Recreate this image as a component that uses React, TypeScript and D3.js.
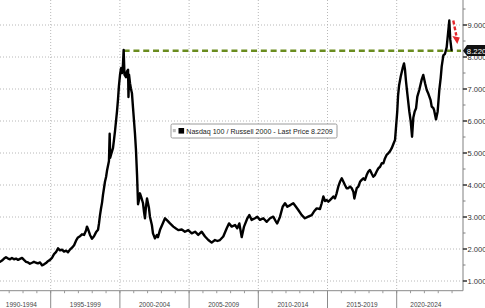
import React from "react";
import * as d3 from "d3";

const years = [
  1991.34, 1991.48, 1991.63, 1991.77, 1991.92, 1992.06, 1992.2, 1992.35, 1992.5, 1992.64,
  1992.78, 1992.93, 1993.07, 1993.22, 1993.36, 1993.5, 1993.65, 1993.79, 1993.94, 1994.08,
  1994.23, 1994.37, 1994.52, 1994.66, 1994.8, 1994.95,
  1995.09, 1995.24, 1995.38, 1995.53, 1995.67, 1995.82, 1995.96, 1996.11, 1996.25, 1996.39,
  1996.54, 1996.69, 1996.83, 1996.97, 1997.12, 1997.26, 1997.41, 1997.55, 1997.62, 1997.7,
  1997.84, 1997.98, 1998.13, 1998.27, 1998.42, 1998.49, 1998.56, 1998.63, 1998.71, 1998.78,
  1998.85, 1998.92, 1999.0, 1999.07, 1999.14, 1999.21, 1999.26, 1999.3, 1999.36, 1999.43,
  1999.5, 1999.57, 1999.65, 1999.72, 1999.79, 1999.86, 1999.93, 2000.01, 2000.08, 2000.15,
  2000.22, 2000.27, 2000.33, 2000.44, 2000.51, 2000.59, 2000.62, 2000.66, 2000.73, 2000.8,
  2000.87, 2000.95, 2001.02, 2001.09, 2001.16, 2001.24, 2001.31, 2001.38, 2001.45, 2001.53,
  2001.67, 2001.74, 2001.81, 2001.88, 2001.96, 2002.1, 2002.17, 2002.31, 2002.39, 2002.53,
  2002.68, 2002.75, 2002.9, 2003.05, 2003.26, 2003.45, 2003.62, 2003.86, 2004.05, 2004.22,
  2004.47, 2004.7, 2004.94, 2005.19, 2005.43, 2005.66, 2005.91, 2006.15, 2006.39, 2006.63,
  2006.87, 2007.05, 2007.23, 2007.47, 2007.72, 2007.88, 2008.08, 2008.32, 2008.48, 2008.63,
  2008.8, 2008.97, 2009.21, 2009.35, 2009.52, 2009.76, 2009.93, 2010.12, 2010.36, 2010.61,
  2010.85, 2011.08, 2011.28, 2011.37, 2011.57, 2011.76, 2011.93, 2012.1, 2012.34, 2012.53,
  2012.72, 2012.89, 2013.14, 2013.37, 2013.61, 2013.86, 2014.02, 2014.22, 2014.46, 2014.58,
  2014.7, 2014.82, 2014.94, 2015.06, 2015.18, 2015.3, 2015.42, 2015.54, 2015.66, 2015.78,
  2015.9, 2016.03, 2016.15, 2016.26, 2016.38, 2016.5, 2016.63, 2016.75, 2016.87, 2016.94,
  2017.11, 2017.23, 2017.35, 2017.47, 2017.59, 2017.71, 2017.83, 2017.95, 2018.07, 2018.19,
  2018.31, 2018.43, 2018.55, 2018.67, 2018.8, 2018.92, 2019.04, 2019.15, 2019.27, 2019.39,
  2019.51, 2019.64, 2019.76, 2019.88, 2020.04, 2020.1, 2020.17, 2020.29, 2020.43, 2020.53,
  2020.6, 2020.67, 2020.77, 2020.91, 2021.01, 2021.11, 2021.2, 2021.3, 2021.4, 2021.49,
  2021.63, 2021.81, 2021.92, 2022.05, 2022.17, 2022.29, 2022.36, 2022.45, 2022.53, 2022.65,
  2022.7, 2022.84, 2022.96, 2023.08, 2023.18, 2023.25, 2023.37, 2023.49, 2023.61, 2023.71,
  2023.8, 2023.87, 2023.96,
];

// Nasdaq 100 / Russell 2000 ratio
const ratio = [
  1.6, 1.64, 1.7, 1.74, 1.7, 1.68, 1.72, 1.68, 1.7, 1.66,
  1.69, 1.72, 1.66, 1.6, 1.58, 1.54, 1.57, 1.6, 1.57, 1.55,
  1.58, 1.49, 1.52, 1.56, 1.62, 1.66,
  1.72, 1.84, 1.9, 2.02, 1.96, 1.98, 1.92, 1.95, 1.9, 1.98,
  2.04, 2.12, 2.26, 2.36, 2.4, 2.46, 2.44, 2.58, 2.7, 2.62,
  2.44, 2.32, 2.4, 2.52, 2.6, 2.8, 3.05, 3.25, 3.45, 3.7,
  3.9, 4.1, 4.25, 4.45, 4.6, 4.75, 5.6, 4.85, 4.95, 5.05,
  5.15, 5.4, 5.7, 6.0, 6.3, 6.66, 7.1, 7.45, 7.65, 7.5,
  7.75, 8.22, 7.45, 7.37, 7.55, 7.6, 6.75, 7.45, 7.18, 7.0,
  6.87, 6.4, 6.0, 5.6, 5.1, 4.3, 3.4, 3.53, 3.74, 3.64,
  3.43, 3.17, 2.96, 3.3, 3.58, 3.28, 3.01, 2.75, 2.49, 2.33,
  2.44, 2.37, 2.6, 2.75, 2.96, 2.88, 2.8, 2.7, 2.64, 2.59,
  2.61, 2.54, 2.59, 2.49, 2.54, 2.44, 2.54, 2.39, 2.28, 2.2,
  2.28, 2.25, 2.28, 2.39, 2.65, 2.8, 2.7, 2.75, 2.65, 2.8,
  2.37, 2.7, 2.96, 3.06, 2.91, 2.96, 3.01, 2.91, 2.96, 2.85,
  2.96, 3.01, 2.85, 2.8, 3.01, 3.32, 3.43, 3.32, 3.38, 3.43,
  3.32, 3.22, 3.06, 2.96, 3.01, 3.06, 3.17, 3.27, 3.25, 3.43,
  3.64, 3.5, 3.53, 3.48, 3.53, 3.58, 3.64, 3.58, 3.74, 3.95,
  4.1, 4.21, 4.1, 4.0, 3.9, 3.9, 3.95, 3.9, 3.79, 3.58,
  3.9, 3.95, 4.1, 4.16, 4.21, 4.16, 4.31, 4.42, 4.47, 4.36,
  4.26, 4.31, 4.42, 4.52, 4.57, 4.68, 4.68, 4.83, 4.94, 4.99,
  5.05, 5.15, 5.28, 5.41, 6.3, 6.8, 7.1, 7.39, 7.65, 7.8,
  7.6, 7.25, 6.85, 6.3, 6.0, 5.51, 6.1, 6.3, 6.4, 6.76,
  6.97, 7.3, 7.44, 7.18, 6.97, 6.85, 6.76, 6.65, 6.45, 6.4,
  6.34, 6.05, 6.3, 6.97, 7.35, 7.7, 8.05, 8.1, 8.3, 8.74,
  9.14, 8.55, 8.22,
];

const lastPrice = 8.2209;
const prevPeakYear = 2000.27;
const yTicks = [1, 2, 3, 4, 5, 6, 7, 8, 9];
const yMinorTicks = [1.5, 2.5, 3.5, 4.5, 5.5, 6.5, 7.5, 8.5, 9.5];
const periodStarts = [1990, 1995, 2000, 2005, 2010, 2015, 2020];
const periodLabels = ["1990-1994", "1995-1999", "2000-2004", "2005-2009", "2010-2014", "2015-2019", "2020-2024"];
const legendText = "Nasdaq 100 / Russell 2000 - Last Price 8.2209";

const W = 485;
const H = 308;
const plotRight = 463;
const axisY = 290.7;
const labelLeft = -8;
const labelRight = 455;

export default function App() {
  const x = d3.scaleLinear().domain([1995, 2020]).range([50.7, 396.7]);
  const y = d3.scaleLinear().domain([1, 9]).range([281, 25]);
  const pts = years.map((yr, i) => [yr, ratio[i]] as [number, number]);
  const line = d3
    .line<[number, number]>()
    .x((d) => x(d[0]))
    .y((d) => y(d[1]));

  const yearTicks = d3.range(1992, 2025);
  const font = "'Liberation Sans', Arial, sans-serif";
  const yLast = y(lastPrice);

  // peak for the red annotation arrow
  const peakIdx = ratio.indexOf(Math.max(...ratio));
  const px = x(years[peakIdx]);
  const py = y(ratio[peakIdx]);

  return (
    <svg
      width={W}
      height={H}
      style={{ position: "absolute", left: 0, top: 0, background: "#fff" }}
      fontFamily={font}
    >
      <defs>
        <clipPath id="plot">
          <rect x={0} y={0} width={plotRight} height={axisY} />
        </clipPath>
      </defs>
      <rect x={0} y={0} width={W} height={H} fill="#fff" />

      {/* horizontal grid */}
      {yTicks.map((t) => (
        <line
          key={"hg" + t}
          x1={0}
          x2={plotRight}
          y1={y(t)}
          y2={y(t)}
          stroke="#b8b8b8"
          strokeWidth={1}
          strokeDasharray="1,2"
        />
      ))}
      {/* vertical grid */}
      {periodStarts.slice(1).map((p) => (
        <line
          key={"vg" + p}
          x1={x(p)}
          x2={x(p)}
          y1={0}
          y2={axisY}
          stroke="#b8b8b8"
          strokeWidth={1}
          strokeDasharray="1,2"
        />
      ))}

      {/* green dashed reference line at last price, from the 2000 peak */}
      <line
        x1={x(prevPeakYear)}
        x2={plotRight - 2}
        y1={yLast + 0.8}
        y2={yLast + 0.8}
        stroke="#6a8c1f"
        strokeWidth={2.7}
        strokeDasharray="6,3.8"
      />
      <line
        x1={x(prevPeakYear)}
        x2={x(prevPeakYear)}
        y1={yLast}
        y2={yLast + 12}
        stroke="#000"
        strokeWidth={1.2}
      />

      {/* series */}
      <g clipPath="url(#plot)">
        <path
          d={line(pts) || ""}
          fill="none"
          stroke="#000"
          strokeWidth={2.4}
          strokeLinejoin="round"
          strokeLinecap="round"
        />
      </g>

      {/* red annotation arrow */}
      <line
        x1={px + 4}
        y1={py}
        x2={px + 7}
        y2={py + 15}
        stroke="#e3262b"
        strokeWidth={2.4}
        strokeDasharray="4,2"
      />
      <path
        d={`M${px + 3},${py + 15.5} L${px + 10.5},${py + 17} L${px + 8},${py + 23.5} Z`}
        fill="#e3262b"
      />

      {/* right axis */}
      <line x1={plotRight} x2={plotRight} y1={0} y2={axisY} stroke="#808080" strokeWidth={1} />
      {yMinorTicks.map((t) => (
        <line key={"mt" + t} x1={plotRight} x2={plotRight + 2.5} y1={y(t)} y2={y(t)} stroke="#808080" />
      ))}
      {yTicks.map((t) => (
        <g key={"yt" + t}>
          <line x1={plotRight} x2={plotRight + 4} y1={y(t)} y2={y(t)} stroke="#333" strokeWidth={1.5} />
          <text x={plotRight + 4.5} y={y(t) + 2.7} fontSize={7.6} fill="#333">
            {d3.format(".3f")(t)}
          </text>
        </g>
      ))}

      {/* last price tag */}
      <path
        d={`M${plotRight},${yLast + 0.8} L${plotRight + 4},${yLast - 5} L${W + 2},${yLast - 5} L${W + 2},${yLast + 6} L${plotRight + 4},${yLast + 6} Z`}
        fill="#111"
      />
      <text x={plotRight + 3.8} y={yLast + 3.6} fontSize={7.8} fill="#fff">
        {d3.format(".4f")(lastPrice)}
      </text>

      {/* bottom axis */}
      <line x1={0} x2={plotRight} y1={axisY} y2={axisY} stroke="#8a8a8a" strokeWidth={1} />
      {yearTicks.map((t) => (
        <line key={"xt" + t} x1={x(t)} x2={x(t)} y1={axisY} y2={axisY + 2.5} stroke="#999" />
      ))}
      {periodStarts.slice(1).map((p) => (
        <line key={"sep" + p} x1={x(p)} x2={x(p)} y1={axisY} y2={H} stroke="#8a8a8a" strokeWidth={1} />
      ))}
      {periodStarts.map((p, i) => {
        const a = Math.max(x(p), labelLeft);
        const b = Math.min(x(p + 5), labelRight);
        return (
          <text
            key={"pl" + p}
            x={(a + b) / 2}
            y={306.5}
            fontSize={7.2}
            fill="#444"
            textAnchor="middle"
            textLength={31}
            lengthAdjust="spacingAndGlyphs"
          >
            {periodLabels[i]}
          </text>
        );
      })}

      {/* legend */}
      <rect x={171} y={124} width={166} height={14} fill="#fff" stroke="#9a9a9a" strokeWidth={1} rx={1.5} />
      <rect x={172.8} y={129} width={3} height={3.2} fill="#bdbdbd" />
      <rect x={178.5} y={128} width={5.6} height={5.6} fill="#000" />
      <text
        x={186.3}
        y={133.6}
        fontSize={7.6}
        fill="#222"
        textLength={146.5}
        lengthAdjust="spacingAndGlyphs"
      >
        {legendText}
      </text>
    </svg>
  );
}
